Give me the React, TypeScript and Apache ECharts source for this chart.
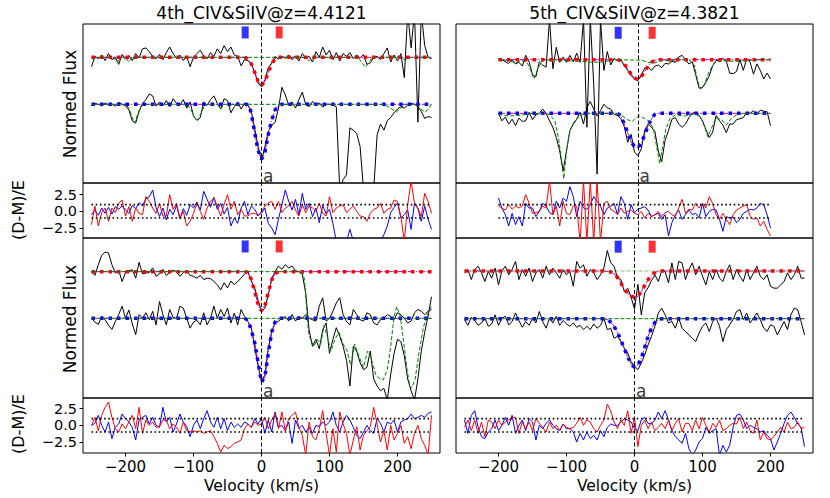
import React, { useEffect, useRef } from 'react';
import * as echarts from 'echarts';

// velocity grid (km/s)
const V = [
  -250, -245, -240, -235, -230, -225, -220, -215, -210, -205,
  -200, -195, -190, -185, -180, -175, -170, -165, -160, -155,
  -150, -145, -140, -135, -130, -125, -120, -115, -110, -105,
  -100, -95, -90, -85, -80, -75, -70, -65, -60, -55,
  -50, -45, -40, -35, -30, -25, -20, -15, -10, -5,
  0, 5, 10, 15, 20, 25, 30, 35, 40, 45,
  50, 55, 60, 65, 70, 75, 80, 85, 90, 95,
  100, 105, 110, 115, 120, 125, 130, 135, 140, 145,
  150, 155, 160, 165, 170, 175, 180, 185, 190, 195,
  200, 205, 210, 215, 220, 225, 230, 235, 240, 245, 250,
];
const V_SHORT = V.slice(10, 91); // -200 .. 200

const X_TICKS = [-200, -100, 0, 100, 200];
const RES_TICKS = [-2.5, 0, 2.5];
const RES_BAND = [-1, 1];
const MARK_V = [-24, 26];

const TITLES = ['4th_CIV&SiIV@z=4.4121', '5th_CIV&SiIV@z=4.3821'];

// ---------- 4th, top (flux) ----------
const TL_UP = [
  1.80, 2.02, 1.97, 2.05, 1.93, 2.08, 1.95, 2.00, 1.85, 2.06,
  1.96, 2.04, 1.93, 2.08, 1.99, 2.18, 2.20, 2.12, 2.02, 1.97,
  2.06, 1.95, 2.10, 2.22, 2.08, 1.98, 2.05, 1.93, 2.02, 1.80,
  2.00, 2.08, 2.15, 2.03, 1.97, 2.10, 2.02, 2.18, 2.08, 2.25,
  2.12, 2.22, 2.05, 2.02, 1.82, 1.95, 1.93, 1.86, 1.68, 1.45,
  1.37, 1.52, 1.78, 1.88, 2.02, 1.96, 2.02, 1.98, 2.05, 1.95,
  2.03, 1.92, 2.08, 1.98, 2.02, 1.90, 2.12, 2.00, 2.22, 2.05,
  2.15, 1.95, 2.10, 1.92, 2.08, 2.02, 2.10, 1.97, 2.05, 1.98,
  2.06, 1.85, 1.88, 2.00, 2.02, 1.95, 2.08, 2.20, 1.90, 2.05,
  1.92, 2.08, 1.57, 2.95, 2.20, 2.95, 0.62, 2.95, 2.25, 2.00, 1.97,
];
const TL_LO = [
  0.98, 1.02, 1.00, 0.97, 1.03, 0.99, 1.01, 0.96, 1.04, 1.00,
  0.97, 0.88, 0.65, 0.60, 0.85, 1.02, 1.10, 1.22, 1.18, 0.96,
  1.05, 0.97, 1.08, 0.95, 1.12, 1.02, 0.98, 1.10, 0.92, 1.05,
  0.75, 0.66, 0.72, 1.05, 0.98, 1.10, 1.18, 1.02, 0.90, 1.12,
  1.08, 0.82, 0.95, 1.05, 0.90, 1.02, 0.98, 0.85, 0.48, 0.10,
  -0.20, 0.10, 0.42, 0.55, 0.62, 0.92, 1.36, 1.20, 0.98, 1.05,
  0.92, 1.10, 1.26, 1.00, 0.95, 1.06, 0.98, 1.03, 0.94, 1.00,
  1.00, 0.98, 0.95, -0.80, -0.60, -0.50, 0.50, 0.45, 0.38, 0.10,
  -0.80, -0.85, -0.80, -0.82, 0.35, 0.58, 0.45, 0.65, 0.72, 0.82,
  0.90, 0.95, 0.92, 0.98, 1.02, 1.00, 0.95, 0.85, 0.70, 0.74, 0.72,
];
const TL_GREEN_UP = [
  [-250, 2.0], [-246, 1.94], [-242, 2.0], [-218, 2.0], [-212, 1.9], [-206, 2.0], [-200, 2.0],
  [-195, 1.9], [-190, 2.0], [65, 2.0], [70, 1.93], [76, 2.0], [142, 2.0], [148, 1.88],
  [153, 1.79], [158, 1.9], [163, 2.0], [205, 2.0], [212, 1.94], [220, 2.0], [250, 2.0],
];
const TL_GREEN_LO = [
  [-250, 1.0], [-200, 1.0], [-195, 0.92], [-190, 0.72], [-187, 0.6], [-183, 0.75], [-178, 0.95],
  [-172, 1.0], [-110, 1.0], [-104, 0.9], [-98, 0.7], [-94, 0.66], [-89, 0.8], [-84, 0.97],
  [-78, 1.0], [-65, 1.0], [-60, 0.9], [-55, 1.0], [180, 1.0], [190, 0.92], [198, 0.83],
  [205, 0.93], [212, 1.0], [228, 1.0], [236, 0.88], [241, 0.83], [246, 0.92], [250, 1.0],
];
const TL_RED_MODEL = [
  [-250, 2.0], [-25, 2.0], [-20, 1.97], [-15, 1.86], [-10, 1.68], [-5, 1.49], [0, 1.40],
  [5, 1.49], [10, 1.68], [15, 1.86], [20, 1.97], [25, 2.0], [250, 2.0],
];
const TL_BLUE_MODEL = [
  [-250, 1.0], [-22, 1.0], [-18, 0.97], [-15, 0.80], [-10, 0.40], [-5, 0.02], [0, -0.17],
  [5, -0.02], [10, 0.36], [15, 0.66], [20, 0.88], [25, 0.97], [30, 1.0], [250, 1.0],
];
const TL_RES_BLUE = [
  -0.5, 0.2, -0.6, 0.5, -0.3, 0.6, -0.4, 0.7, 0.3, 0.8,
  0.2, -0.3, 0.9, 0.4, 1.3, 0.8, 1.9, 2.2, 3.2, 0.6,
  -0.8, 0.5, -1.3, 0.3, -0.5, 0.9, -1.1, 0.4, -0.6, 1.0,
  0.5, 1.4, 0.2, 3.0, 1.8, 0.6, 2.1, 0.3, 1.2, -0.4,
  0.6, -2.2, -1.0, -1.8, 0.5, 1.5, -0.5, 0.8, 0.3, -0.6,
  -0.3, 0.5, -1.8, -2.5, -3.5, -1.2, 1.0, 3.2, 1.5, 0.2,
  1.8, -0.5, 2.7, 0.3, 1.2, -0.8, 0.5, -1.7, 0.9, -0.4,
  0.3, -1.8, -4.5, -4.5, -4.5, -4.5, -2.7, -4.5, -4.5, -4.5,
  -4.5, -4.5, -4.5, -4.5, -4.5, -4.5, -3.5, -2.2, -0.2, 0.6,
  1.25, -1.0, -0.5, 0.2, -2.7, 1.25, 0.4, -1.5, 0.8, -1.2, -2.7,
];
const TL_RES_RED = [
  -2.0, 0.8, -2.2, -0.2, 0.5, -1.5, 0.5, -0.2, 1.2, 1.7,
  -0.7, 0.7, -1.5, 0.5, -0.3, -0.5, 2.2, 1.5, 0.5, -0.3,
  1.2, -0.7, -0.7, 2.5, 0.3, 1.2, -1.0, 0.0, -2.2, -1.5,
  -0.3, 1.25, 0.0, -1.2, 0.5, 1.5, 2.0, 0.8, -0.7, 1.0,
  2.5, 0.3, 1.5, -0.5, 0.3, -0.7, -0.7, -0.3, -0.3, -0.7,
  0.0, 0.8, 1.25, 1.5, 0.3, 1.5, -0.2, 0.5, 0.8, 1.5,
  0.2, -0.7, 1.0, -0.2, 0.8, 0.5, 0.0, 1.25, -0.3, -0.7,
  2.2, -0.2, 0.5, 0.8, 1.0, -0.2, 0.3, 0.8, 0.0, -0.7,
  -0.8, -1.5, -0.3, 0.3, 0.5, 1.2, -0.3, 0.3, 0.5, 1.7,
  1.5, -0.8, -4.5, 1.0, 4.5, 1.2, 0.5, -0.8, 2.7, 1.5, -0.3,
];

// ---------- 5th, top (flux) ----------
const TR_UP = [
  2.02, 2.00, 1.96, 1.93, 2.00, 1.92, 1.95, 1.88, 2.08, 1.96,
  1.72, 1.68, 1.96, 1.90, 1.86, 2.75, 1.83, 2.23, 1.95, 2.05,
  1.95, 2.08, 1.96, 2.12, 1.95, 2.75, 0.74, 2.75, 1.55, -0.13,
  2.75, 1.80, 2.15, 1.90, 2.02, 1.98, 2.00, 1.89, 1.80, 1.70,
  1.64, 1.61, 1.72, 1.84, 1.86, 1.80, 1.88, 1.90, 1.85, 1.93,
  1.92, 1.97, 1.95, 2.05, 2.08, 2.00, 1.92, 1.96, 1.72, 1.47,
  1.48, 1.58, 1.70, 1.89, 1.98, 2.00, 2.02, 1.97, 1.75, 1.74,
  1.78, 2.00, 1.80, 2.02, 1.95, 1.73, 1.92, 1.80, 1.64, 1.75,
  1.64,
];
const TR_LO = [
  1.00, 0.86, 0.93, 0.80, 0.89, 0.77, 0.91, 0.85, 0.86, 1.02,
  0.88, 0.97, 1.00, 1.08, 1.00, 0.86, 0.74, 0.55, 0.30, -0.07,
  0.30, 0.68, 0.80, 0.89, 1.02, 0.80, 1.11, 1.22, 1.08, 0.95,
  1.05, 1.17, 1.10, 1.08, 0.98, 0.96, 0.90, 0.75, 0.46, 0.61,
  0.28, 0.21, 0.34, 0.68, 0.80, 0.74, 0.66, 0.30, 0.10, 0.50,
  0.68, 0.89, 0.92, 0.80, 0.74, 0.80, 0.92, 1.00, 1.02, 0.96,
  0.86, 0.70, 0.55, 0.65, 0.96, 0.86, 0.78, 0.64, 0.80, 0.80,
  0.88, 0.90, 0.92, 1.02, 1.00, 1.05, 0.98, 1.06, 1.04, 1.03,
  0.77,
];
const TR_GREEN_UP = [
  [-200, 2.0], [-185, 1.98], [-175, 1.94], [-165, 1.98], [-158, 1.95], [-152, 1.78], [-148, 1.64],
  [-143, 1.8], [-136, 1.98], [-120, 2.0], [-80, 1.97], [-60, 1.95], [-45, 1.96], [-30, 2.0],
  [10, 1.99], [20, 1.95], [28, 1.93], [38, 1.98], [80, 2.0], [88, 1.9], [93, 1.6], [97, 1.45],
  [102, 1.52], [110, 1.78], [118, 1.95], [130, 1.98], [140, 1.97], [200, 2.0],
];
const TR_GREEN_LO = [
  [-200, 0.98], [-185, 0.95], [-170, 0.96], [-150, 1.0], [-125, 0.98], [-117, 0.86], [-112, 0.55],
  [-108, 0.2], [-104, -0.22], [-100, 0.3], [-95, 0.68], [-88, 0.86], [-80, 0.96], [-70, 1.0],
  [-30, 1.0], [-20, 0.97], [-10, 0.88], [-3, 0.85], [2, 0.92], [8, 0.95], [15, 0.9], [22, 0.85],
  [28, 0.7], [33, 0.35], [37, 0.06], [41, 0.35], [46, 0.7], [52, 0.9], [60, 0.97], [75, 0.95],
  [90, 0.99], [98, 0.9], [103, 0.75], [108, 0.56], [113, 0.72], [120, 0.92], [128, 0.88],
  [135, 0.78], [142, 0.9], [150, 0.97], [160, 1.0], [200, 1.0],
];
const TR_RED_MODEL = [
  [-200, 2.0], [-25, 2.0], [-20, 1.98], [-15, 1.92], [-10, 1.83], [-5, 1.73], [0, 1.66], [5, 1.63],
  [10, 1.68], [15, 1.78], [20, 1.88], [25, 1.95], [30, 1.99], [35, 2.0], [200, 2.0],
];
const TR_BLUE_MODEL = [
  [-200, 1.0], [-25, 1.0], [-20, 0.95], [-15, 0.80], [-10, 0.64], [-5, 0.47], [0, 0.38], [5, 0.36],
  [10, 0.44], [15, 0.60], [20, 0.77], [25, 0.90], [30, 0.98], [35, 1.0], [200, 1.0],
];
const TR_RES_BLUE = [
  2.0, 0.5, -0.5, -2.2, -0.3, -2.0, -0.8, -2.2, 1.2, 0.5,
  0.5, -0.8, 0.0, 1.2, 0.8, -0.2, -0.5, 1.5, 0.5, 2.0,
  1.5, 3.7, 2.2, -0.8, 1.5, 0.5, 0.3, 1.0, 2.2, 1.5,
  0.8, -0.5, 0.5, 0.8, 1.2, -0.5, 2.2, 1.2, -1.2, 1.0,
  -0.2, 0.3, 0.5, 0.7, 0.2, -0.8, -0.5, -0.3, -1.2, -0.5,
  -3.7, -1.7, -0.5, 0.2, -1.2, -0.5, 0.2, -0.5, -0.3, -1.0,
  1.2, -0.8, 0.0, 0.3, 0.2, -1.2, -3.0, -0.8, -1.0, -0.8,
  -1.7, -1.2, -0.3, 0.0, 0.3, 0.2, 0.5, 1.2, 1.0, -0.5,
  -2.5,
];
const TR_RES_RED = [
  0.8, 0.5, 0.2, 1.0, 0.3, 0.8, 0.5, 0.8, 2.5, 1.2,
  -0.3, -0.2, 0.0, 0.8, 0.5, 4.6, -0.5, 0.8, -2.2, 1.5,
  -0.3, -0.5, 0.8, 0.8, -4.6, 4.6, -4.6, 4.6, -4.6, 4.6,
  -4.6, 1.2, 1.5, 0.3, 0.0, -0.5, 0.5, -0.3, 0.0, 0.2,
  -0.3, -0.5, 0.0, -1.0, -0.3, -0.8, -0.5, 0.0, -0.8, -0.2,
  0.0, -0.5, -0.8, 0.5, 1.8, -0.3, 0.3, 0.2, 1.2, 0.5,
  1.2, 0.5, 2.2, 1.2, -0.5, -1.2, -0.3, -1.2, -2.0, -0.5,
  0.2, 0.5, 0.8, 1.0, -0.7, -1.2, -1.0, -2.2, -1.5, -2.7,
  -3.7,
];

// ---------- 4th, bottom (flux) ----------
const BL_UP = [
  2.00, 1.92, 2.15, 2.35, 2.42, 2.40, 2.15, 1.97, 2.03, 1.79,
  1.98, 2.02, 2.04, 1.86, 2.20, 1.95, 1.97, 1.98, 2.08, 1.90,
  1.95, 2.05, 1.92, 1.98, 2.03, 2.00, 1.90, 1.98, 2.02, 1.92,
  1.90, 1.86, 1.92, 1.83, 1.86, 1.85, 1.79, 1.72, 1.61, 1.76,
  1.65, 1.80, 1.72, 1.79, 1.86, 1.95, 2.00, 1.80, 1.65, 1.38,
  1.15, 1.22, 1.50, 1.85, 2.00, 2.12, 2.05, 2.15, 2.08, 2.12,
  2.02, 2.00, 1.94, 1.55, 0.75, 0.40, 0.55, 0.35, 0.75, 0.90,
  0.25, 0.55, 0.80, 0.62, 0.40, 0.10, -0.45, 0.40, 0.30, 0.05,
  -0.10, -0.05, 0.30, -0.30, -0.45, -0.55, -0.50, -0.75, -0.20, 0.25,
  0.55, 0.50, 0.20, -0.30, -0.55, -0.75, -0.30, 0.30, 0.70, 1.05, 1.46,
];
const BL_LO = [
  1.00, 0.92, 0.87, 1.04, 0.97, 0.85, 0.76, 0.93, 1.08, 1.26,
  1.00, 1.18, 0.88, 0.65, 1.08, 1.00, 1.12, 0.97, 1.15, 0.86,
  1.36, 1.08, 0.86, 1.19, 1.02, 1.00, 1.26, 1.22, 1.00, 0.79,
  0.92, 0.96, 0.86, 1.12, 0.86, 1.00, 1.26, 1.00, 1.19, 1.04,
  1.22, 0.90, 1.11, 0.86, 1.19, 1.04, 0.93, 0.79, 0.38, -0.02,
  -0.35, -0.21, 0.36, 0.72, 0.90, 0.94, 1.00, 1.04, 0.94, 1.08,
  0.94, 1.04, 1.00, 1.08, 1.00, 0.97, 0.94, 1.26, 1.44, 0.94,
  1.00, 1.15, 1.33, 1.44, 1.08, 0.93, 0.86, 1.19, 1.08, 0.97,
  0.94, 1.12, 1.08, 0.90, 0.86, 0.97, 1.00, 1.08, 1.04, 0.97,
  1.12, 1.08, 1.00, 0.90, 0.94, 1.12, 1.19, 1.15, 1.08, 1.15, 1.19,
];
const BL_GREEN_UP = [
  [-250, 2.0], [60, 2.0], [63, 1.85], [66, 1.3], [69, 0.7], [72, 0.55], [77, 0.40], [82, 0.55],
  [87, 0.45], [92, 0.85], [97, 0.60], [102, 0.30], [108, 0.55], [114, 0.70], [120, 0.45],
  [126, 0.30], [131, 0.0], [137, 0.45], [143, 0.20], [150, -0.05], [156, 0.30], [162, 0.10],
  [168, -0.20], [174, -0.30], [179, -0.32], [185, -0.10], [190, 0.40], [195, 1.05], [199, 1.25],
  [204, 1.05], [209, 0.5], [214, -0.1], [218, -0.45], [221, -0.49], [226, -0.3], [232, 0.3],
  [238, 0.8], [243, 1.05], [247, 1.18], [250, 1.25],
];
const BL_GREEN_LO = [[-250, 1.0], [250, 1.0]];
const BL_RED_MODEL = [
  [-250, 2.0], [-25, 2.0], [-20, 1.99], [-15, 1.83], [-10, 1.58], [-5, 1.30], [0, 1.16],
  [5, 1.28], [10, 1.55], [15, 1.82], [20, 1.96], [25, 2.0], [250, 2.0],
];
const BL_BLUE_MODEL = [
  [-250, 1.0], [-25, 1.0], [-20, 0.96], [-15, 0.75], [-10, 0.48], [-5, 0.05], [0, -0.37],
  [5, -0.25], [10, 0.25], [15, 0.70], [20, 0.92], [25, 1.0], [250, 1.0],
];
const BL_RES_BLUE = [
  0.0, 0.3, 1.5, 0.0, -1.0, 0.5, -2.0, -0.3, 0.2, 1.7,
  1.0, 0.5, -0.3, -2.2, 0.8, 1.2, 1.5, 0.2, 1.2, 0.0,
  -0.3, 2.7, 0.5, 1.2, -1.0, 0.2, 1.7, 0.5, -0.2, -1.7,
  0.0, 0.8, -0.5, 1.0, 2.2, 0.5, -0.3, 1.2, -0.5, 1.0,
  -0.8, 0.5, -0.3, 0.2, -0.3, 0.5, 0.2, -0.3, 1.0, 0.2,
  1.0, -1.2, 0.8, -1.0, 2.0, -0.3, 0.0, -0.8, 0.5, -2.7,
  0.8, -0.5, 0.0, -1.0, -0.3, -1.2, 0.0, -0.2, 0.5, 0.0,
  0.5, 2.0, 0.0, -1.0, 0.5, 1.5, 0.8, -0.3, -1.5, -2.0,
  -1.0, 0.0, -0.8, -1.2, 1.0, 0.3, -1.0, 0.5, 0.2, 0.8,
  -1.0, 0.5, 0.8, 1.0, 1.7, 1.0, 1.2, 1.5, 1.2, 1.8, 2.0,
];
const BL_RES_RED = [
  0.0, 1.2, -0.8, 1.5, 2.7, 3.5, 1.2, -0.5, -1.0, 0.2,
  -0.5, 0.5, 1.5, -0.5, 2.7, -1.2, 0.8, 0.0, 0.5, -0.3,
  -0.2, 0.8, 0.8, -0.5, 0.2, -0.3, -1.2, 0.5, -0.8, -1.0,
  -0.8, -1.0, -0.8, -1.2, -1.0, -0.8, -1.7, -2.7, -4.0, -3.0,
  -3.5, -3.2, -2.7, -2.5, -2.2, -0.5, 0.2, -0.3, 0.5, 0.0,
  0.2, 1.2, -0.5, 0.8, 1.7, -0.5, 2.0, -0.8, 1.0, 1.5,
  2.0, -0.3, -1.5, -4.5, 0.5, -1.7, -2.2, -0.5, 2.2, -1.2,
  -4.5, -0.5, -4.0, 2.0, 0.2, -1.2, -4.5, -2.2, -0.2, -3.7,
  -1.5, -0.8, -0.2, 2.7, 0.2, -2.5, -0.8, -3.7, 0.0, -2.2,
  -1.2, 0.0, -2.7, -1.7, -3.5, -1.2, 0.0, -2.0, -3.0, -4.5, 1.5,
];

// ---------- 5th, bottom (flux) ----------
const BR_UP = [
  1.96, 2.03, 1.82, 2.03, 2.10, 1.96, 1.78, 1.99, 1.85, 2.06,
  1.71, 2.00, 2.10, 1.92, 2.03, 2.20, 1.82, 2.03, 1.89, 2.06,
  1.78, 1.96, 2.03, 1.85, 2.10, 1.92, 2.06, 1.96, 1.85, 2.03,
  1.92, 1.99, 1.68, 2.20, 2.06, 2.13, 1.89, 2.03, 1.96, 1.82,
  1.92, 2.06, 2.43, 2.17, 2.10, 1.85, 1.82, 1.57, 1.64, 1.45,
  1.20, 1.72, 1.08, 1.54, 1.65, 1.80, 1.92, 1.78, 2.00, 1.99,
  1.75, 2.17, 1.82, 2.20, 2.17, 1.82, 2.03, 2.17, 1.92, 2.10,
  1.89, 1.71, 1.99, 1.82, 2.03, 1.85, 1.78, 1.99, 2.13, 1.82,
  2.03, 1.89, 1.78, 2.03, 1.82, 1.96, 2.10, 1.89, 1.82, 1.92,
  1.68, 1.64, 1.64, 1.71, 1.78, 1.96, 1.82, 1.92, 2.10, 1.85, 1.85,
];
const BR_LO = [
  0.98, 0.86, 1.03, 0.96, 0.86, 0.91, 1.01, 0.84, 0.89, 1.08,
  0.86, 1.01, 1.05, 0.87, 0.94, 1.12, 0.96, 0.82, 0.94, 0.86,
  1.01, 0.91, 1.15, 0.94, 0.80, 1.01, 0.91, 1.05, 0.86, 0.96,
  0.89, 0.84, 0.91, 0.82, 0.86, 0.77, 0.84, 0.77, 0.89, 0.80,
  0.86, 1.01, 0.77, 0.80, 0.59, 0.63, 0.52, 0.38, 0.28, 0.10,
  0.00, -0.07, 0.07, 0.24, 0.45, 0.63, 0.84, 1.12, 1.22, 1.08,
  0.91, 0.94, 0.80, 1.01, 0.80, 0.73, 0.66, 0.59, 0.52, 0.70,
  0.84, 0.91, 0.73, 0.94, 1.01, 0.84, 0.52, 0.77, 0.87, 0.98,
  1.15, 1.19, 0.98, 1.12, 0.91, 1.01, 1.12, 0.98, 0.80, 0.73,
  0.87, 0.84, 0.66, 0.80, 0.94, 0.77, 1.08, 1.22, 1.19, 0.94, 0.66,
];
const BR_GREEN_UP = [[-250, 2.0], [250, 2.0]];
const BR_GREEN_LO = [[-250, 1.0], [250, 1.0]];
const BR_RED_MODEL = [
  [-250, 2.0], [-45, 2.0], [-35, 1.98], [-28, 1.92], [-22, 1.80], [-16, 1.64], [-10, 1.53],
  [-5, 1.47], [0, 1.45], [5, 1.47], [10, 1.57], [16, 1.72], [22, 1.86], [29, 1.96], [36, 2.0],
  [250, 2.0],
];
const BR_BLUE_MODEL = [
  [-250, 1.0], [-45, 1.0], [-38, 0.97], [-32, 0.88], [-26, 0.74], [-20, 0.55], [-15, 0.37],
  [-10, 0.20], [-5, 0.05], [0, -0.02], [5, 0.03], [10, 0.17], [15, 0.40], [20, 0.63], [25, 0.80],
  [30, 0.92], [36, 0.99], [42, 1.0], [250, 1.0],
];
const BR_RES_BLUE = [
  0.8, -1.2, 1.5, 2.2, -0.3, -1.7, -2.0, -1.0, -0.5, 0.8,
  -0.8, 0.0, 1.2, 0.0, 1.5, -1.2, 0.0, 0.8, -0.8, 1.0,
  0.5, -2.2, 0.0, -0.5, 0.3, 0.8, 0.0, -0.5, -0.8, 0.2,
  -0.5, -0.5, -1.0, -2.5, -1.2, -2.2, -1.0, -2.0, -1.5, -2.2,
  -0.8, -1.7, -0.3, 0.2, 0.0, 0.0, 0.5, 1.0, 0.8, 0.5,
  -0.5, -0.8, 0.8, 1.2, 0.3, 0.2, 0.8, 2.0, 1.0, 2.2,
  0.8, -0.8, -1.7, -2.2, -2.7, -1.2, -3.5, -4.5, -3.7, -2.5,
  -2.0, -0.3, -1.2, -0.8, -0.5, -4.5, -3.0, -4.0, -3.0, -0.3,
  1.5, 1.7, 0.8, -0.5, 0.0, -0.3, -0.5, -1.0, -0.8, -1.5,
  -2.0, -3.7, -2.5, -1.2, 0.3, 1.5, 2.0, 1.2, 0.2, -0.3, -3.2,
];
const BR_RES_RED = [
  -0.3, 0.8, -0.8, 0.8, -1.2, 0.5, -1.7, 0.8, 0.5, -0.5,
  0.8, 0.0, 0.5, 0.8, 1.2, 1.2, -1.2, 0.5, -0.5, 0.5,
  -0.8, 1.0, 0.3, -0.3, -1.0, 0.5, -0.5, 0.0, -0.8, 0.2,
  -0.3, -0.5, -0.3, 0.3, 1.2, 0.0, 0.8, 0.5, -0.5, -1.0,
  0.0, 0.8, 3.2, 2.2, 0.5, -0.5, 0.8, 0.0, 2.2, -1.2,
  1.2, -3.2, 0.0, 0.8, -0.5, 0.5, -0.8, -0.3, 0.3, -0.5,
  0.8, -0.8, 0.3, 1.0, -1.0, 0.3, 0.3, -0.8, 0.8, -0.5,
  1.2, 0.0, -1.0, 0.3, -0.3, 0.8, -0.8, -0.5, 0.0, 0.3,
  0.2, 1.2, -0.5, 0.5, -0.8, -1.2, 0.8, -2.2, -1.0, -2.0,
  -2.2, -1.7, -1.0, -0.3, -1.0, 0.5, -0.5, -0.3, 0.5, -0.5, -0.3,
];

const PANELS = [
  { col: 0, row: 0, vel: V, up: TL_UP, lo: TL_LO, gUp: TL_GREEN_UP, gLo: TL_GREEN_LO, red: TL_RED_MODEL, blue: TL_BLUE_MODEL, resB: TL_RES_BLUE, resR: TL_RES_RED, yMin: -0.674, yMax: 2.709, markY: 2.53, lineX: 0, rMin: -4.0, rMax: 4.25, gUpOpacity: 1 },
  { col: 0, row: 1, vel: V, up: BL_UP, lo: BL_LO, gUp: BL_GREEN_UP, gLo: BL_GREEN_LO, red: BL_RED_MODEL, blue: BL_BLUE_MODEL, resB: BL_RES_BLUE, resR: BL_RES_RED, yMin: -0.707, yMax: 2.721, markY: 2.54, lineX: 0, rMin: -4.15, rMax: 4.1, gUpOpacity: 1 },
  { col: 1, row: 0, vel: V_SHORT, up: TR_UP, lo: TR_LO, gUp: TR_GREEN_UP, gLo: TR_GREEN_LO, red: TR_RED_MODEL, blue: TR_BLUE_MODEL, resB: TR_RES_BLUE, resR: TR_RES_RED, yMin: -0.298, yMax: 2.664, markY: 2.5, lineX: 5, rMin: -4.0, rMax: 4.25, gUpOpacity: 1 },
  { col: 1, row: 1, vel: V, up: BR_UP, lo: BR_LO, gUp: BR_GREEN_UP, gLo: BR_GREEN_LO, red: BR_RED_MODEL, blue: BR_BLUE_MODEL, resB: BR_RES_BLUE, resR: BR_RES_RED, yMin: -0.664, yMax: 2.692, markY: 2.51, lineX: 0, rMin: -4.15, rMax: 4.1, gUpOpacity: 0.5 },
];

const FONT = 'DejaVu Sans';
const COL_LEFT = [83, 456];
const COL_WIDTH = 357;
const FLUX_TOP = [24, 238];
const FLUX_H = [159, 160];
const RES_TOP = [183, 398];
const RES_H = 55;

const fmtMinus = (v: number, digits: number) => {
  const s = Math.abs(v).toFixed(digits);
  return v < 0 ? '\u2212' + s : s;
};

function zip(xs: number[], ys: number[]) {
  return xs.map((x, i) => [x, ys[i]]);
}

export default function App() {
  const ref = useRef<HTMLDivElement>(null);
  useEffect(() => {
    if (!ref.current) return;
    const chart = echarts.init(ref.current, null, { renderer: 'svg' });
    const grid: any[] = [];
    const xAxis: any[] = [];
    const yAxis: any[] = [];
    const series: any[] = [];
    const vline = (x: number) => ({
      silent: true,
      symbol: ['none', 'none'],
      label: { show: false },
      lineStyle: { color: '#000', width: 1, type: [4, 2.5] },
      data: [{ xAxis: x }],
      animation: false,
    });
    const line = (idx: number, data: any[], color: string, width: number, type: any, extra: any = {}) => ({
      type: 'line',
      xAxisIndex: idx,
      yAxisIndex: idx,
      data,
      symbol: 'none',
      showSymbol: false,
      silent: true,
      clip: true,
      lineStyle: { color, width, type, ...(extra.lineStyle || {}) },
      ...extra.rest,
    });

    PANELS.forEach((p) => {
      const left = COL_LEFT[p.col];
      const isBottom = p.row === 1;
      // flux grid
      const fi = grid.length;
      grid.push({ left, top: FLUX_TOP[p.row], width: COL_WIDTH, height: FLUX_H[p.row], show: true, borderColor: '#000', borderWidth: 1, containLabel: false });
      xAxis.push({ type: 'value', gridIndex: fi, min: -262.5, max: 262.5, show: false, axisLine: { onZero: false } });
      yAxis.push({ type: 'value', gridIndex: fi, min: p.yMin, max: p.yMax, show: false, axisLine: { onZero: false } });
      // residual grid
      const ri = grid.length;
      grid.push({ left, top: RES_TOP[p.row], width: COL_WIDTH, height: RES_H, show: true, borderColor: '#000', borderWidth: 1, containLabel: false });
      xAxis.push({
        type: 'value', gridIndex: ri, min: -262.5, max: 262.5, show: isBottom,
        axisLine: { show: false, onZero: false },
        splitLine: { show: false },
        axisTick: { show: isBottom, customValues: X_TICKS, length: 3.5, lineStyle: { color: '#000', width: 1 } },
        axisLabel: { show: isBottom, customValues: X_TICKS, formatter: (v: number) => fmtMinus(v, 0), fontSize: 15, fontFamily: FONT, color: '#000', margin: 6 },
      });
      yAxis.push({
        type: 'value', gridIndex: ri, min: p.rMin, max: p.rMax, show: p.col === 0,
        axisLine: { show: false, onZero: false },
        splitLine: { show: false },
        axisTick: { show: true, customValues: RES_TICKS, length: 3.5, lineStyle: { color: '#000', width: 1 } },
        axisLabel: { show: true, customValues: RES_TICKS, formatter: (v: number) => fmtMinus(v, 1), fontSize: 14.5, fontFamily: FONT, color: '#000', margin: 6 },
      });

      // flux series
      series.push(line(fi, zip(p.vel, p.up), '#000', 1, 'solid', { rest: { markLine: vline(p.lineX), z: 2 } }));
      series.push(line(fi, zip(p.vel, p.lo), '#000', 1, 'solid', { rest: { z: 2 } }));
      series.push(line(fi, p.red, '#bf00bf', 1, [6.4, 1.6, 1, 1.6], { rest: { z: 3 } }));
      series.push(line(fi, p.blue, '#bf00bf', 1, [6.4, 1.6, 1, 1.6], { rest: { z: 3 } }));
      series.push(line(fi, p.red, '#ff0000', 3.5, [3.5, 5], { rest: { z: 4 } }));
      series.push(line(fi, p.blue, '#0000ff', 3.5, [3.5, 5], { rest: { z: 4 } }));
      series.push(line(fi, p.gUp, '#008000', 1, [4, 2], { lineStyle: { opacity: p.gUpOpacity }, rest: { z: 5 } }));
      series.push(line(fi, p.gLo, '#008000', 1, [4, 2], { rest: { z: 5 } }));
      series.push({
        type: 'scatter', xAxisIndex: fi, yAxisIndex: fi, silent: true, symbol: 'rect', symbolSize: [7, 12], z: 6,
        data: [
          { value: [MARK_V[0], p.markY], itemStyle: { color: '#0000ff' } },
          { value: [MARK_V[1], p.markY], itemStyle: { color: '#ff0000' } },
        ],
      });
      series.push({
        type: 'scatter', xAxisIndex: fi, yAxisIndex: fi, silent: true, clip: false, symbolSize: 1, z: 6,
        itemStyle: { color: 'rgba(0,0,0,0)' },
        data: [[p.lineX, p.yMin]],
        label: { show: true, formatter: 'a', position: 'right', distance: 1, offset: [0, -7], fontSize: 17, fontFamily: FONT, color: '#000' },
      });

      // residual series
      const v0 = p.vel[0];
      const v1 = p.vel[p.vel.length - 1];
      series.push(line(ri, zip(p.vel, p.resB), '#0000ff', 1, 'solid', { rest: { markLine: vline(p.lineX), z: 2 } }));
      series.push(line(ri, zip(p.vel, p.resR), '#ff0000', 1, 'solid', { rest: { z: 3 } }));
      RES_BAND.forEach((b) => {
        series.push(line(ri, [[v0, b], [v1, b]], '#000', 1.6, [1.6, 2.6], { rest: { z: 4 } }));
      });
    });

    const txt = (text: string, x: number, y: number, size: number, rot = 0) => ({
      type: 'text', x, y, rotation: rot, silent: true,
      style: { text, fontSize: size, fontFamily: FONT, fill: '#000', textAlign: 'center', textVerticalAlign: 'middle', align: 'center', verticalAlign: 'middle' },
    });
    const graphic = [
      txt(TITLES[0], 261.5, 13, 17),
      txt(TITLES[1], 634.5, 13, 17),
      txt('Normed Flux', 70, 104, 17, Math.PI / 2),
      txt('Normed Flux', 70, 319, 17, Math.PI / 2),
      txt('(D-M)/E', 18, 210, 16, Math.PI / 2),
      txt('(D-M)/E', 18, 424, 16, Math.PI / 2),
      txt('Velocity (km/s)', 261.5, 486, 15.5),
      txt('Velocity (km/s)', 634.5, 486, 15.5),
    ];

    chart.setOption({
      animation: false,
      backgroundColor: '#fff',
      grid, xAxis, yAxis, series, graphic,
    });
    return () => chart.dispose();
  }, []);
  return <div ref={ref} style={{ position: 'fixed', left: 0, top: 0, width: 830, height: 498, background: '#fff' }} />;
}
